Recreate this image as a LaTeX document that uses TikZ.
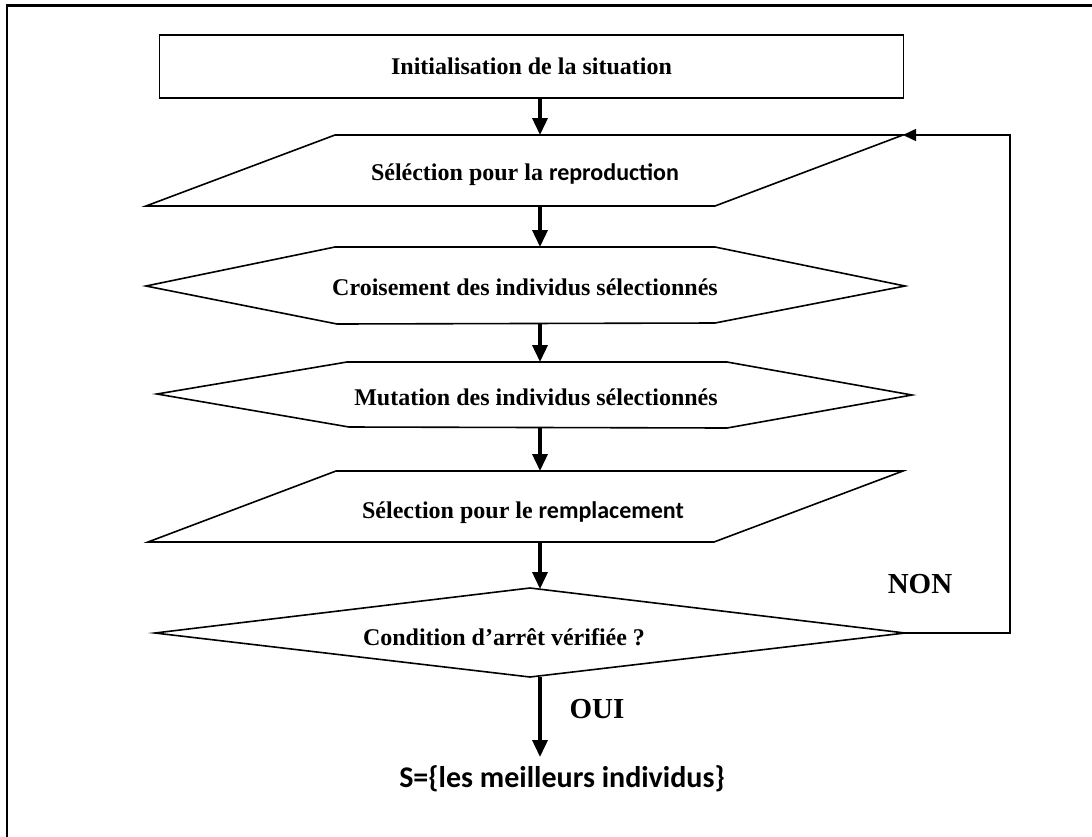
\documentclass[tikz,border=0pt]{standalone}
\usepackage{fontspec}
\setmainfont{Liberation Serif}
\newfontfamily\calibri{Carlito}
\usetikzlibrary{arrows.meta}
\begin{document}
\begin{tikzpicture}[x=1pt,y=-1pt,
  outline/.style={draw=black, line width=1.6pt, line join=miter},
  flow/.style={line width=3.6pt, -{Triangle[width=15pt,length=17pt]}},
  loopline/.style={line width=1.6pt, -{Triangle[width=12pt,length=13pt]}},
  lbl/.style={inner sep=0pt, anchor=base, font=\bfseries\fontsize{24}{28}\selectfont},
  biglbl/.style={inner sep=0pt, anchor=base, font=\bfseries\fontsize{29}{34}\selectfont},
]
\useasboundingbox (0,0) rectangle (1092,836);
\clip (0,0) rectangle (1092,836);
% page frame
\draw[line width=2.4pt] (7,5.5) rectangle (1130,880);

% initialisation
\node[outline, minimum width=744pt, minimum height=63pt, inner sep=0pt,
      font=\bfseries\fontsize{24}{28}\selectfont] (init) at (531.5,66.5) {Initialisation de la situation};
\coordinate (init-out) at (540,98);

% selection for reproduction (parallelogram)
\draw[outline] (335,135) -- (903,135) coordinate (rep-corner) -- (715,206) -- (146,206) -- cycle;
\coordinate (rep-in) at (540,135);
\coordinate (rep-out) at (540,206);
\node[lbl] (rep) at (525,180) {Séléction pour la {\calibri reproduction}};

% crossover (hexagon)
\draw[outline] (146,286) -- (335,247) -- (715,247) -- (905,286) -- (715,323) -- (337,324) -- cycle;
\coordinate (cro-in) at (540,247);
\coordinate (cro-out) at (540,323.5);
\node[lbl] (cro) at (525,295) {Croisement des individus sélectionnés};

% mutation (hexagon)
\draw[outline] (157,394) -- (347,362) -- (727,362) -- (912,395) -- (727,428) -- (349,427) -- cycle;
\coordinate (mut-in) at (540,362);
\coordinate (mut-out) at (540,427.5);
\node[lbl] (mut) at (536,405) {Mutation des individus sélectionnés};

% selection for replacement (parallelogram)
\draw[outline] (336,471) -- (903,471) -- (714,542) -- (148,542) -- cycle;
\coordinate (rem-in) at (540,471);
\coordinate (rem-out) at (540,542);
\node[lbl] (rem) at (523,518) {Sélection pour le {\calibri remplacement}};

% stop test (diamond)
\draw[outline] (155,633) -- (530,588) -- (905,633) coordinate (cond-right) -- (530,677) -- cycle;
\coordinate (cond-in) at (540,589);
\coordinate (cond-out) at (540,677);
\node[lbl] (cond) at (504,645) {Condition d’arrêt vérifiée ?};

% result
\coordinate (res-in) at (540,757);
\node[inner sep=0pt, anchor=base, font=\calibri\bfseries\fontsize{30}{36}\selectfont] (res) at (562,787) {S=\{les meilleurs individus\}};

% labels of the two branches
\node[biglbl] (oui) at (597,718) {OUI};
\node[biglbl] (non) at (920,593) {NON};

% main flow
\draw[flow] (init-out) -- (rep-in);
\draw[flow] (rep-out) -- (cro-in);
\draw[flow] (cro-out) -- (mut-in);
\draw[flow] (mut-out) -- (rem-in);
\draw[flow] (rem-out) -- (cond-in);
\draw[flow] (cond-out) -- (res-in);

% loop back when the test fails
\coordinate (loop-a) at (1010,633);
\coordinate (loop-b) at (1010,135);
\draw[loopline] (cond-right) -- (loop-a) -- (loop-b) -- (rep-corner);
\end{tikzpicture}
\end{document}
